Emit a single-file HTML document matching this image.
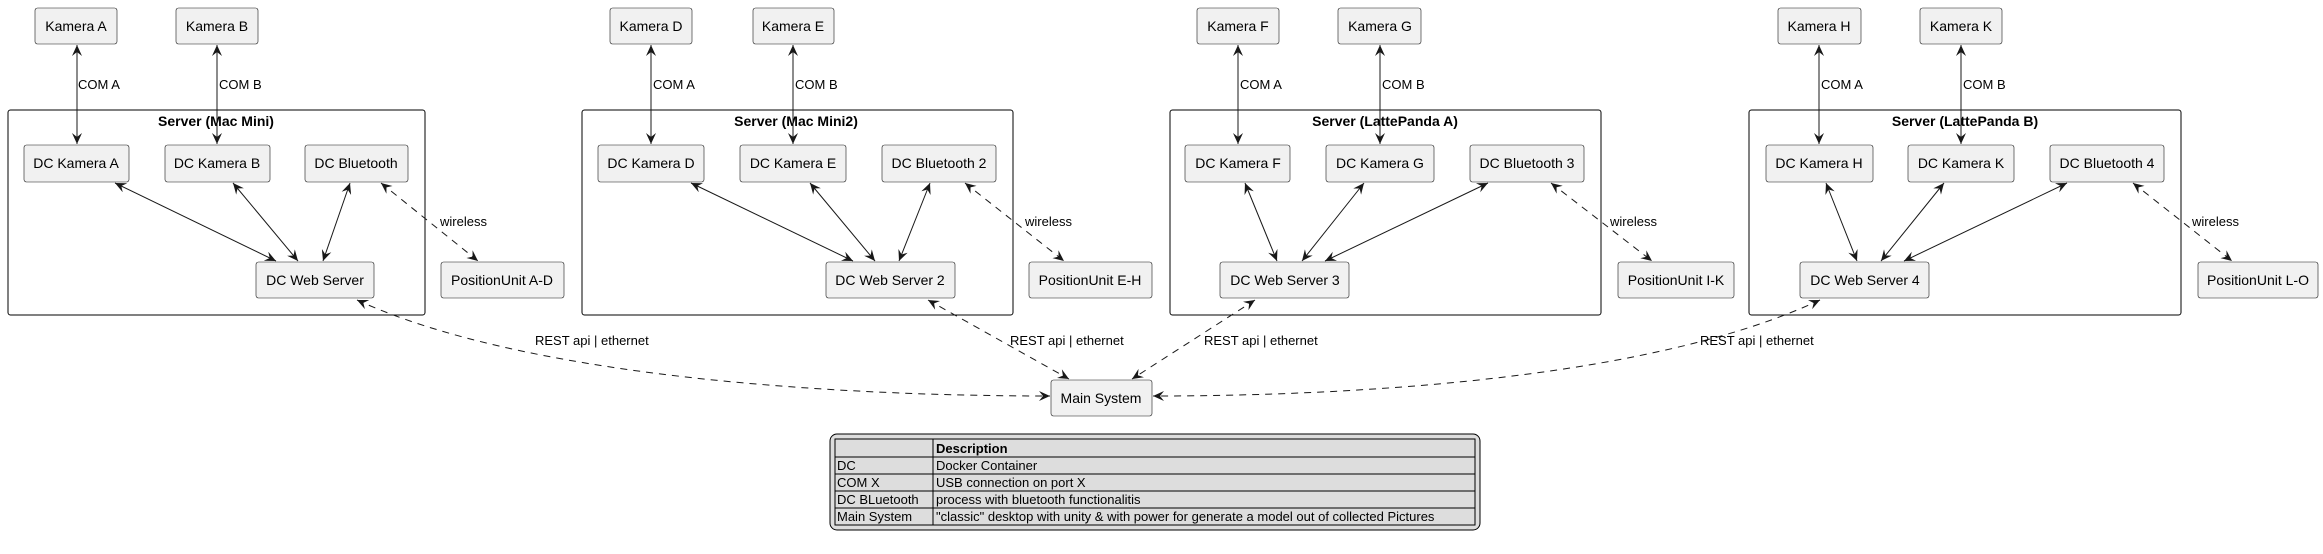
<!DOCTYPE html>
<html><head><meta charset="utf-8"><style>
html,body{margin:0;padding:0;background:#fff;}
svg{display:block;font-family:"Liberation Sans",Arial,sans-serif;}
.n{fill:#f1f1f1;stroke:#181818;stroke-width:0.6;}
.t{font-size:14px;fill:#000;text-anchor:middle;}
.f{fill:none;stroke:#000;stroke-width:1;}
.ti{font-size:14px;font-weight:bold;text-anchor:middle;}
.e{stroke:#181818;stroke-width:1;fill:none;marker-start:url(#a);marker-end:url(#a);}
.d{stroke-dasharray:7,6;}
.l{font-size:13px;fill:#000;}
.lg{font-size:13px;fill:#000;}
</style></head><body>
<svg width="2323" height="554" viewBox="0 0 2323 554" xmlns="http://www.w3.org/2000/svg">
<defs>
<marker id="a" viewBox="0 0 12 10" refX="11" refY="5" markerWidth="12" markerHeight="10" markerUnits="userSpaceOnUse" orient="auto-start-reverse">
<path d="M0,0 L11,5 L0,10 L4,5 Z" fill="#181818"/>
</marker>
</defs>

<!-- Server 1 -->
<rect class="f" x="8" y="110" width="417" height="205" rx="2.5"/>
<text class="ti" x="216" y="126">Server (Mac Mini)</text>
<rect class="n" x="35" y="8" width="82" height="36" rx="2.5"/><text class="t" x="76" y="31">Kamera A</text>
<rect class="n" x="176" y="8" width="82" height="36" rx="2.5"/><text class="t" x="217" y="31">Kamera B</text>
<rect class="n" x="24" y="145" width="105" height="37" rx="2.5"/><text class="t" x="76" y="168">DC Kamera A</text>
<rect class="n" x="165" y="145" width="105" height="37" rx="2.5"/><text class="t" x="217" y="168">DC Kamera B</text>
<rect class="n" x="305" y="145" width="103" height="37" rx="2.5"/><text class="t" x="356" y="168">DC Bluetooth</text>
<rect class="n" x="256" y="262" width="118" height="36" rx="2.5"/><text class="t" x="315" y="285">DC Web Server</text>
<rect class="n" x="441" y="262" width="123" height="36" rx="2.5"/><text class="t" x="502" y="285">PositionUnit A-D</text>
<line class="e" x1="77" y1="45" x2="77" y2="144"/><text class="l" x="78" y="89">COM A</text>
<line class="e" x1="217" y1="45" x2="217" y2="144"/><text class="l" x="219" y="89">COM B</text>
<line class="e" x1="115" y1="183" x2="276" y2="261"/>
<line class="e" x1="233" y1="183" x2="298" y2="261"/>
<line class="e" x1="350" y1="183" x2="323" y2="261"/>
<line class="e d" x1="381" y1="183" x2="478" y2="261"/><text class="l" x="440" y="226">wireless</text>

<!-- Server 2 -->
<rect class="f" x="582" y="110" width="431" height="205" rx="2.5"/>
<text class="ti" x="796" y="126">Server (Mac Mini2)</text>
<rect class="n" x="610" y="8" width="82" height="36" rx="2.5"/><text class="t" x="651" y="31">Kamera D</text>
<rect class="n" x="753" y="8" width="81" height="36" rx="2.5"/><text class="t" x="793" y="31">Kamera E</text>
<rect class="n" x="598" y="145" width="106" height="37" rx="2.5"/><text class="t" x="651" y="168">DC Kamera D</text>
<rect class="n" x="740" y="145" width="106" height="37" rx="2.5"/><text class="t" x="793" y="168">DC Kamera E</text>
<rect class="n" x="882" y="145" width="114" height="37" rx="2.5"/><text class="t" x="939" y="168">DC Bluetooth 2</text>
<rect class="n" x="826" y="262" width="129" height="36" rx="2.5"/><text class="t" x="890" y="285">DC Web Server 2</text>
<rect class="n" x="1029" y="262" width="123" height="36" rx="2.5"/><text class="t" x="1090" y="285">PositionUnit E-H</text>
<line class="e" x1="651" y1="45" x2="651" y2="144"/><text class="l" x="653" y="89">COM A</text>
<line class="e" x1="793" y1="45" x2="793" y2="144"/><text class="l" x="795" y="89">COM B</text>
<line class="e" x1="691" y1="183" x2="853" y2="261"/>
<line class="e" x1="810" y1="183" x2="875" y2="261"/>
<line class="e" x1="930" y1="183" x2="899" y2="261"/>
<line class="e d" x1="965" y1="183" x2="1064" y2="261"/><text class="l" x="1025" y="226">wireless</text>

<!-- Server 3 -->
<rect class="f" x="1170" y="110" width="431" height="205" rx="2.5"/>
<text class="ti" x="1385" y="126">Server (LattePanda A)</text>
<rect class="n" x="1197" y="8" width="82" height="36" rx="2.5"/><text class="t" x="1238" y="31">Kamera F</text>
<rect class="n" x="1338" y="8" width="83" height="36" rx="2.5"/><text class="t" x="1380" y="31">Kamera G</text>
<rect class="n" x="1185" y="145" width="105" height="37" rx="2.5"/><text class="t" x="1238" y="168">DC Kamera F</text>
<rect class="n" x="1326" y="145" width="108" height="37" rx="2.5"/><text class="t" x="1380" y="168">DC Kamera G</text>
<rect class="n" x="1470" y="145" width="114" height="37" rx="2.5"/><text class="t" x="1527" y="168">DC Bluetooth 3</text>
<rect class="n" x="1220" y="262" width="129" height="36" rx="2.5"/><text class="t" x="1285" y="285">DC Web Server 3</text>
<rect class="n" x="1618" y="262" width="116" height="36" rx="2.5"/><text class="t" x="1676" y="285">PositionUnit I-K</text>
<line class="e" x1="1238" y1="45" x2="1238" y2="144"/><text class="l" x="1240" y="89">COM A</text>
<line class="e" x1="1380" y1="45" x2="1380" y2="144"/><text class="l" x="1382" y="89">COM B</text>
<line class="e" x1="1245" y1="183" x2="1277" y2="261"/>
<line class="e" x1="1364" y1="183" x2="1302" y2="261"/>
<line class="e" x1="1488" y1="183" x2="1325" y2="261"/>
<line class="e d" x1="1551" y1="183" x2="1652" y2="261"/><text class="l" x="1610" y="226">wireless</text>

<!-- Server 4 -->
<rect class="f" x="1749" y="110" width="432" height="205" rx="2.5"/>
<text class="ti" x="1965" y="126">Server (LattePanda B)</text>
<rect class="n" x="1778" y="8" width="83" height="36" rx="2.5"/><text class="t" x="1819" y="31">Kamera H</text>
<rect class="n" x="1920" y="8" width="82" height="36" rx="2.5"/><text class="t" x="1961" y="31">Kamera K</text>
<rect class="n" x="1766" y="145" width="107" height="37" rx="2.5"/><text class="t" x="1819" y="168">DC Kamera H</text>
<rect class="n" x="1908" y="145" width="106" height="37" rx="2.5"/><text class="t" x="1961" y="168">DC Kamera K</text>
<rect class="n" x="2050" y="145" width="114" height="37" rx="2.5"/><text class="t" x="2107" y="168">DC Bluetooth 4</text>
<rect class="n" x="1800" y="262" width="129" height="36" rx="2.5"/><text class="t" x="1865" y="285">DC Web Server 4</text>
<rect class="n" x="2198" y="262" width="120" height="36" rx="2.5"/><text class="t" x="2258" y="285">PositionUnit L-O</text>
<line class="e" x1="1819" y1="45" x2="1819" y2="144"/><text class="l" x="1821" y="89">COM A</text>
<line class="e" x1="1961" y1="45" x2="1961" y2="144"/><text class="l" x="1963" y="89">COM B</text>
<line class="e" x1="1826" y1="183" x2="1857" y2="261"/>
<line class="e" x1="1944" y1="183" x2="1881" y2="261"/>
<line class="e" x1="2067" y1="183" x2="1904" y2="261"/>
<line class="e d" x1="2133" y1="183" x2="2232" y2="261"/><text class="l" x="2192" y="226">wireless</text>

<!-- Main system -->
<rect class="n" x="1051" y="380" width="101" height="36" rx="2.5"/><text class="t" x="1101" y="403">Main System</text>
<path class="e d" d="M357,300 C520,375 820,396 1050,396"/>
<path class="e d" d="M928,300 L1069,379"/>
<path class="e d" d="M1255,300 L1132,379"/>
<path class="e d" d="M1820,300 C1660,375 1380,396 1153,396"/>
<text class="l" x="535" y="345">REST api | ethernet</text>
<text class="l" x="1010" y="345">REST api | ethernet</text>
<text class="l" x="1204" y="345">REST api | ethernet</text>
<text class="l" x="1700" y="345">REST api | ethernet</text>

<!-- Legend -->
<rect x="830" y="434" width="650" height="96" rx="7" fill="#dddddd" stroke="#000" stroke-width="1"/>
<rect x="835" y="439" width="640" height="86" fill="#dddddd" stroke="#000" stroke-width="1"/>
<g stroke="#000" stroke-width="1">
<line x1="835" y1="457" x2="1475" y2="457"/>
<line x1="835" y1="474" x2="1475" y2="474"/>
<line x1="835" y1="491" x2="1475" y2="491"/>
<line x1="835" y1="508" x2="1475" y2="508"/>
<line x1="933" y1="439" x2="933" y2="525"/>
</g>
<text class="lg" x="936" y="453" font-weight="bold">Description</text>
<text class="lg" x="837" y="470">DC</text><text class="lg" x="936" y="470">Docker Container</text>
<text class="lg" x="837" y="487">COM X</text><text class="lg" x="936" y="487">USB connection on port X</text>
<text class="lg" x="837" y="504">DC BLuetooth</text><text class="lg" x="936" y="504">process with bluetooth functionalitis</text>
<text class="lg" x="837" y="521">Main System</text><text class="lg" x="936" y="521">"classic" desktop with unity &amp; with power for generate a model out of collected Pictures</text>
</svg>
</body></html>
